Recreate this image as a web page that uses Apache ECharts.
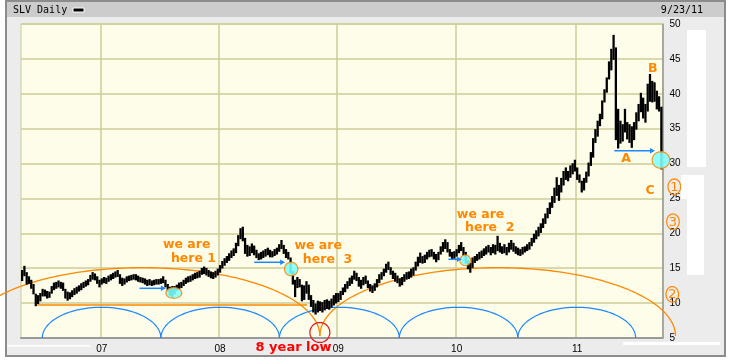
<!DOCTYPE html>
<html><head><meta charset="utf-8">
<script src="https://cdn.jsdelivr.net/npm/echarts@6/dist/echarts.min.js"></script>
<style>html,body{margin:0;padding:0;background:#fff;}#c{width:732px;height:364px;}</style>
</head><body><div id="c"></div>
<script>
// ---- data: SLV weekly high / low, weeks ending Fridays from 2006-05-05 ----
const firstWeekUTC = Date.UTC(2006, 4, 5);
const highs = [
14.6,15.2,14.3,13.7,13.2,12.6,11.2,11.0,11.3,11.9,11.8,11.6,11.5,12.3,12.8,12.9,13.1,12.9,12.8,11.9,
11.5,11.4,11.7,12.0,12.2,12.4,12.7,12.9,13.1,13.3,13.9,14.3,14.1,13.7,13.2,13.4,13.6,13.5,13.8,14.0,
14.2,14.4,14.6,14.0,13.5,13.4,13.7,13.8,13.9,14.0,14.0,13.8,13.6,13.5,13.4,13.2,13.3,13.1,13.2,13.3,
13.3,13.4,13.7,13.2,12.6,12.2,12.3,12.3,12.5,12.8,12.9,13.2,13.5,13.7,13.8,14.0,14.2,14.3,14.5,14.9,
15.1,14.9,14.6,14.4,14.3,14.5,14.8,15.3,15.9,16.3,16.6,17.0,17.4,17.7,18.5,19.6,20.6,20.8,19.2,18.2,
18.0,18.4,18.1,17.5,17.0,17.2,17.4,17.6,17.8,17.5,17.3,17.6,17.8,18.3,18.9,18.2,17.6,17.2,16.4,14.5,
13.2,13.6,13.3,12.5,12.4,13.0,12.5,11.0,10.3,9.8,10.2,10.1,10.0,10.3,10.4,10.2,10.5,11.0,11.3,11.3,
11.6,12.1,12.6,13.0,13.5,13.8,14.5,14.2,13.6,13.2,13.6,13.8,13.1,12.6,12.4,12.7,13.3,14.0,14.3,14.8,
15.5,15.8,15.0,14.5,14.2,13.8,13.4,13.6,14.0,14.3,14.4,14.8,15.0,15.8,16.5,17.1,16.6,16.8,17.2,17.5,
17.6,17.2,16.9,17.2,18.0,18.6,19.0,18.6,17.6,17.2,17.3,17.6,18.2,18.6,17.9,17.2,16.0,15.6,16.4,16.6,
16.9,17.2,17.4,17.7,18.0,18.2,17.9,18.3,18.2,19.5,18.5,18.0,18.3,17.9,18.5,18.9,18.5,18.0,17.8,17.6,
17.9,18.0,18.3,18.6,19.2,19.8,20.3,20.8,21.3,22.0,22.7,23.5,24.3,25.2,26.4,27.9,26.8,27.8,28.8,29.3,
28.8,29.6,29.9,30.4,29.3,28.3,27.4,27.8,28.7,30.0,31.5,33.5,34.8,36.0,37.0,38.9,40.5,42.2,44.5,46.3,
48.3,46.5,37.7,36.0,35.5,37.7,35.8,35.5,35.2,35.8,37.2,38.4,40.0,39.3,38.4,41.3,42.7,41.7,41.5,40.3,
39.5,38.0
];
const lows = [
13.3,14.0,12.8,12.9,12.2,11.4,9.7,10.0,10.4,11.1,11.1,10.8,10.9,11.5,12.0,12.2,12.4,12.2,11.9,10.8,
10.5,10.7,11.0,11.3,11.5,11.8,12.0,12.3,12.5,12.7,13.2,13.5,13.4,12.9,12.4,12.8,13.0,12.9,13.2,13.4,
13.6,13.8,13.9,12.9,12.6,12.8,13.1,13.3,13.4,13.5,13.4,13.2,13.1,13.0,12.8,12.6,12.7,12.6,12.7,12.8,
12.8,12.9,13.0,12.4,11.8,11.2,10.9,11.4,11.9,12.1,12.3,12.6,12.9,13.1,13.2,13.4,13.6,13.7,13.8,14.2,
14.3,14.1,13.9,13.7,13.6,13.8,14.1,14.5,15.1,15.5,15.9,16.2,16.6,16.9,17.3,18.3,19.3,19.0,17.2,16.8,
16.9,17.3,17.0,16.6,16.3,16.4,16.6,16.8,17.0,16.7,16.7,16.9,17.1,17.5,17.9,17.2,16.6,16.4,14.4,12.8,
11.0,12.3,12.4,10.4,10.6,11.5,10.6,9.6,8.8,8.5,8.8,9.0,8.8,9.1,9.3,9.2,9.5,9.8,10.1,10.3,
10.6,11.3,11.7,12.2,12.6,12.9,13.5,13.3,12.5,12.2,12.7,12.9,12.3,11.8,11.6,11.9,12.4,13.0,13.5,14.0,
14.5,14.9,14.2,13.6,13.2,13.0,12.5,12.7,13.2,13.5,13.6,13.8,14.1,14.8,15.4,15.9,15.8,15.9,16.4,16.7,
16.8,16.4,16.0,16.3,17.1,17.5,17.9,17.4,16.8,16.4,16.5,16.8,17.3,17.6,16.9,15.8,15.0,14.5,15.2,15.9,
16.2,16.4,16.6,16.9,17.1,17.4,17.0,17.3,17.1,17.6,17.4,17.2,17.3,17.0,17.4,17.8,17.5,17.2,17.0,16.9,
17.1,17.4,17.6,17.8,18.3,18.8,19.3,19.7,20.2,20.9,21.5,22.3,22.9,23.8,24.5,25.5,24.8,26.0,27.0,27.8,
27.6,28.1,28.6,29.0,27.8,27.4,26.0,26.3,27.4,28.3,29.8,31.0,33.1,34.0,35.5,36.5,38.9,40.3,42.2,43.5,
45.0,33.5,32.3,33.0,33.3,34.6,33.6,33.1,32.4,33.5,35.0,36.2,37.5,36.6,36.0,37.6,39.0,38.9,39.0,37.9,
37.6,29.3
];
const yMin = 5, yMax = 50, yStep = 5;
const titleText = 'SLV Daily';
const dateText = '9/23/11';

// ---- annotations, in (week index, price) units ----
const orangeArcs = [[-24.97, 130.87, 5.29, 15.08], [130.87, 287.2, 5.29, 15.08]];
const blueArcs = [[8.86, 61.0, 5, 9.40], [61.0, 113.1, 5, 9.40], [113.1, 165.8, 5, 9.40], [165.8, 217.9, 5, 9.40], [217.9, 269.7, 5, 9.40]];
const orangeLevel = [6.66, 125.2, 9.73];
const blueArrows = [[51.6, 63.2, 12.12], [102.0, 115.6, 15.85], [187.4, 193.3, 16.28], [260.3, 278.2, 31.84]];
const cyanMarks = [[66.7, 11.45, 3.5, 0.76], [118.26, 14.89, 2.94, 0.96], [194.8, 16.14, 2.33, 0.76], [280.8, 30.51, 3.87, 1.19]];
const redRing = [130.87, 5.79, 4.39, 1.43];
const orangeNotes = [
  ['we are', 61.9, 18.43, 'left'], ['here 1', 65.4, 16.32, 'left'],
  ['we are', 119.7, 18.19, 'left'], ['here  3', 123.4, 16.18, 'left'],
  ['we are', 191.1, 22.63, 'left'], ['here  2', 194.7, 20.81, 'left'],
  ['A', 265.45, 30.75, 'center'], ['B', 277.2, 43.55, 'center'], ['C', 276.0, 26.11, 'center']
];
const redNote = ['8 year low', 119.3, 3.61];
const circledNums = [['1', 286.7, 26.68], ['3', 286.1, 21.67], ['2', 285.8, 11.26]];

const ORANGE = '#ff8800', BLUE = '#1e88ff', CYAN = '#80ffff';

const weeks = highs.map((_, i) => new Date(firstWeekUTC + i * 7 * 86400000).toISOString().slice(0, 10));
const isYearStart = (idx) => idx > 0 && weeks[idx].slice(0, 4) !== weeks[idx - 1].slice(0, 4);

function scaleOf(api) {
  const a = api.coord([0, yMin]), b = api.coord([1, yMin]);
  const step = b[0] - a[0];
  return {
    x: (i) => a[0] + i * step,
    y: (p) => api.coord([0, p])[1],
    w: (d) => d * step,
    h: (d) => Math.abs(api.coord([0, yMin + d])[1] - a[1])
  };
}
function halfEllipse(s, i0, i1, base, peak, n) {
  const x0 = s.x(i0), x1 = s.x(i1), cx = (x0 + x1) / 2, a = (x1 - x0) / 2;
  const yb = s.y(base), h = yb - s.y(peak), pts = [];
  for (let k = 0; k <= n; k++) { const t = Math.PI * (1 - k / n); pts.push([cx + a * Math.cos(t), yb - h * Math.sin(t)]); }
  return pts;
}
function ellipse(cx, cy, rx, ry, n) {
  const pts = [];
  for (let k = 0; k < n; k++) { const t = 2 * Math.PI * k / n; pts.push([cx + rx * Math.cos(t), cy + ry * Math.sin(t)]); }
  return pts;
}

function renderPrice(params, api) {
  const i = api.value(0);
  const lo = api.coord([i, api.value(1)]), hi = api.coord([i, api.value(2)]);
  const w = api.size([1, 0])[0];
  return { type: 'rect', shape: { x: hi[0] - w / 2, y: hi[1] - 1, width: w, height: Math.max(1, lo[1] - hi[1]) + 2 }, style: { fill: '#000' } };
}

function renderBelow(params, api) {
  const s = scaleOf(api), ch = [];
  orangeArcs.forEach(r => ch.push({ type: 'polyline', shape: { points: halfEllipse(s, r[0], r[1], r[2], r[3], 120) }, style: { stroke: ORANGE, lineWidth: 1.3, fill: null } }));
  blueArcs.forEach(r => ch.push({ type: 'polyline', shape: { points: halfEllipse(s, r[0], r[1], r[2], r[3], 60) }, style: { stroke: BLUE, lineWidth: 1.2, fill: null } }));
  ch.push({ type: 'line', shape: { x1: s.x(orangeLevel[0]), y1: s.y(orangeLevel[2]), x2: s.x(orangeLevel[1]), y2: s.y(orangeLevel[2]) }, style: { stroke: ORANGE, lineWidth: 1.5 } });
  return { type: 'group', children: ch };
}

function renderAbove(params, api) {
  const s = scaleOf(api), ch = [];
  cyanMarks.forEach(m => ch.push({ type: 'polygon', shape: { points: ellipse(s.x(m[0]), s.y(m[1]), s.w(m[2]), s.h(m[3]), 40) }, style: { fill: CYAN, opacity: 0.88, stroke: ORANGE, lineWidth: 1.2 } }));
  blueArrows.forEach(a => {
    const x0 = s.x(a[0]), x1 = s.x(a[1]), y = s.y(a[2]);
    ch.push({ type: 'line', shape: { x1: x0, y1: y, x2: x1 - 3, y2: y }, style: { stroke: BLUE, lineWidth: 1.5 } });
    ch.push({ type: 'polygon', shape: { points: [[x1, y], [x1 - 5, y - 2.8], [x1 - 5, y + 2.8]] }, style: { fill: BLUE } });
  });
  ch.push({ type: 'polygon', shape: { points: ellipse(s.x(redRing[0]), s.y(redRing[1]), s.w(redRing[2]), s.h(redRing[3]), 48) }, style: { fill: null, stroke: '#ee1111', lineWidth: 1.2 } });
  orangeNotes.forEach(t => ch.push({ type: 'text', x: s.x(t[1]), y: s.y(t[2]), style: { text: t[0], fill: ORANGE, font: 'bold 12.5px "DejaVu Sans"', align: t[3], verticalAlign: 'middle' } }));
  ch.push({ type: 'text', x: s.x(redNote[1]), y: s.y(redNote[2]), style: { text: redNote[0], fill: '#ff0000', font: 'bold 13px "DejaVu Sans"', align: 'center', verticalAlign: 'middle' } });
  circledNums.forEach(c => {
    const cx = s.x(c[1]), cy = s.y(c[2]);
    ch.push({ type: 'polygon', shape: { points: ellipse(cx, cy, 6.3, 7.8, 36) }, style: { fill: null, stroke: ORANGE, lineWidth: 1.2 } });
    ch.push({ type: 'text', x: cx, y: cy + 0.5, style: { text: c[0], fill: ORANGE, font: '13px "DejaVu Sans"', align: 'center', verticalAlign: 'middle' } });
  });
  return { type: 'group', children: ch };
}

const chart = echarts.init(document.getElementById('c'), null, { renderer: 'canvas', width: 732, height: 364 });
chart.setOption({
  animation: false,
  backgroundColor: '#ffffff',
  graphic: [
    { type: 'rect', z: -10, shape: { x: 6, y: 1, width: 719, height: 355 }, style: { fill: '#ececec', stroke: '#8c8c8c', lineWidth: 2 } },
    { type: 'rect', z: -9, shape: { x: 7, y: 2, width: 717, height: 15 }, style: { fill: '#cccccc' } },
    { type: 'text', z: 10, x: 13, y: 10, style: { text: titleText, fill: '#000', font: '10px "DejaVu Sans Mono"', verticalAlign: 'middle' } },
    { type: 'rect', z: 10, shape: { x: 73, y: 8, width: 11, height: 4 }, style: { fill: '#000', stroke: '#fff', lineWidth: 1 } },
    { type: 'text', z: 10, x: 703, y: 10, style: { text: dateText, fill: '#000', font: '10px "DejaVu Sans Mono"', align: 'right', verticalAlign: 'middle' } },
    { type: 'rect', z: 100, shape: { x: 687, y: 30, width: 19, height: 137 }, style: { fill: '#fff' } },
    { type: 'rect', z: 100, shape: { x: 687, y: 175, width: 17, height: 100 }, style: { fill: '#fff' } },
    { type: 'rect', z: 100, shape: { x: 681, y: 175, width: 7, height: 24 }, style: { fill: '#fff' } },
    { type: 'rect', z: 100, shape: { x: 7, y: 345, width: 83, height: 1.5 }, style: { fill: '#fff' } },
    { type: 'rect', z: 100, shape: { x: 623, y: 342, width: 97, height: 3 }, style: { fill: '#fff' } }
  ],
  grid: { left: 21, top: 24, width: 641.5, height: 314, show: true, backgroundColor: '#fdfdea', borderColor: '#cccc99', borderWidth: 1 },
  xAxis: {
    type: 'category', data: weeks, boundaryGap: true,
    axisLine: { show: true, lineStyle: { color: '#9a9a9a', width: 2 } },
    axisTick: { show: false },
    axisLabel: { interval: (idx) => isYearStart(idx), formatter: (v) => v.slice(2, 4), color: '#000', fontSize: 10, fontFamily: 'Liberation Sans', margin: 6 },
    splitLine: { show: true, interval: (idx) => isYearStart(idx), lineStyle: { color: '#cccc99', width: 1.5 } }
  },
  yAxis: {
    type: 'value', position: 'right', min: yMin, max: yMax, interval: yStep,
    axisLine: { show: true, lineStyle: { color: '#9a9a9a', width: 1.5 } },
    axisTick: { show: false },
    axisLabel: { color: '#000', fontSize: 10, fontFamily: 'Liberation Sans', margin: 7 },
    splitLine: { show: true, lineStyle: { color: '#cccc99', width: 1.5 } }
  },
  series: [
    { type: 'custom', name: 'annoBelow', z: 1, clip: false, silent: true, data: [[0, yMin]], encode: { x: 0, y: 1 }, renderItem: renderBelow },
    { type: 'custom', name: 'SLV', z: 2, clip: true, data: highs.map((h, i) => [i, lows[i], h]), encode: { x: 0, y: [1, 2] }, renderItem: renderPrice },
    { type: 'custom', name: 'annoAbove', z: 3, clip: false, silent: true, data: [[0, yMin]], encode: { x: 0, y: 1 }, renderItem: renderAbove }
  ]
});
</script></body></html>
